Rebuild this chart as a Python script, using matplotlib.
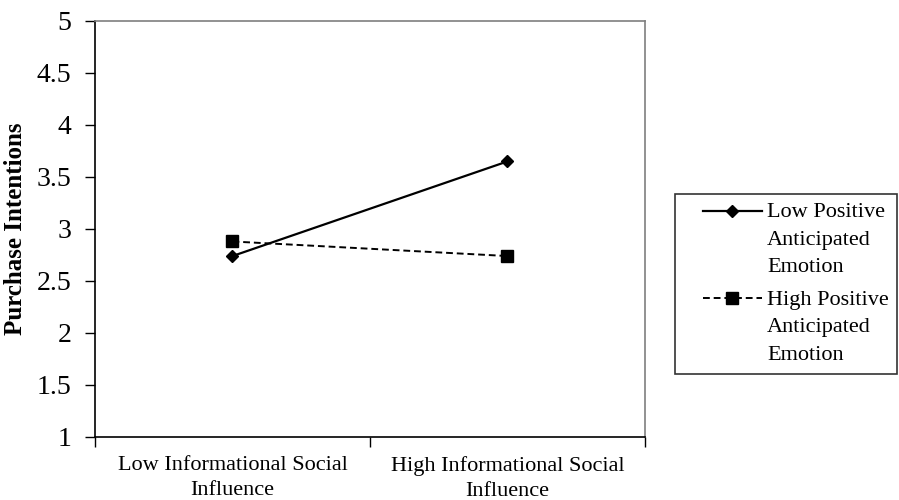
import matplotlib
matplotlib.use("Agg")
import matplotlib.pyplot as plt
from matplotlib.legend_handler import HandlerLine2D

plt.rcParams['font.family'] = ['Liberation Serif', 'DejaVu Serif']

categories = ["Low Informational Social\nInfluence", "High Informational Social\nInfluence"]
low_pos = [2.74, 3.65]
high_pos = [2.88, 2.74]
series_labels = ["Low Positive\nAnticipated\nEmotion", "High Positive\nAnticipated\nEmotion"]
y_ticks = [1, 1.5, 2, 2.5, 3, 3.5, 4, 4.5, 5]
y_tick_labels = ["1", "1.5", "2", "2.5", "3", "3.5", "4", "4.5", "5"]

LEG_FS = 16
LEG_LINESP = 1.62
X_LINESP = 1.38


class TopHandler(HandlerLine2D):
    """Line handle aligned to the first text line and starting after a gap."""
    def __init__(self, shift, xoff, **kw):
        super().__init__(**kw)
        self.shift = shift
        self.xoff = xoff

    def get_xdata(self, legend, xdescent, ydescent, width, height, fontsize):
        x0 = -xdescent + self.xoff
        x1 = -xdescent + width
        return [x0, x1], [0.5 * (x0 + x1)]

    def create_artists(self, legend, orig_handle, xdescent, ydescent, width, height, fontsize, trans):
        return super().create_artists(legend, orig_handle, xdescent, ydescent - 2 * self.shift,
                                      width, height, fontsize, trans)


fig = plt.figure(figsize=(8.99, 5.0), dpi=100)
ax = fig.add_axes([95/899, 63/500, 550/899, 416/500])

x = list(range(len(categories)))
l1, = ax.plot(x, low_pos, color='black', lw=1.6, marker='D', markersize=6.5, label=series_labels[0])
l2, = ax.plot(x, high_pos, color='black', lw=1.4, ls=(0, (3.5, 2)), marker='s', markersize=8.5,
              label=series_labels[1])

ax.set_xlim(-0.5, len(categories) - 0.5)
ax.set_ylim(1, 5)
ax.set_yticks(y_ticks)
ax.set_yticklabels(y_tick_labels, fontsize=20)
ax.tick_params(axis='y', length=7, width=1, pad=10, colors='black')

ax.set_xticks([i - 0.5 for i in range(len(categories) + 1)])
ax.set_xticklabels([])
ax.set_xticks(x, minor=True)
ax.set_xticklabels(categories, minor=True, fontsize=16, linespacing=X_LINESP)
ax.tick_params(axis='x', which='major', length=7, width=1, direction='out')
ax.tick_params(axis='x', which='minor', length=0, pad=14)

for s in ['left', 'bottom']:
    ax.spines[s].set_color('black')
    ax.spines[s].set_linewidth(1.2)
for s in ['top', 'right']:
    ax.spines[s].set_color('#7f7f7f')
    ax.spines[s].set_linewidth(1.2)

ax.set_ylabel("Purchase Intentions", fontsize=18, fontweight='bold')
ax.yaxis.set_label_coords(-0.124, 0.5)

shift_pt = 20.6
xoff_pt = 13.7
handler = {l1: TopHandler(shift_pt, xoff_pt), l2: TopHandler(shift_pt, xoff_pt)}
leg = fig.legend(handles=[l1, l2], loc='upper left',
                 bbox_to_anchor=(675/899, 1 - 194/500, (897 - 675)/899, 0), mode='expand',
                 fontsize=LEG_FS, frameon=True, fancybox=False, edgecolor='black',
                 handlelength=3.5, handletextpad=0.25, labelspacing=0.6, borderpad=0.4,
                 borderaxespad=0, handler_map=handler)
leg.get_frame().set_linewidth(1.2)
for t in leg.get_texts():
    t.set_linespacing(LEG_LINESP)

fig.savefig("out.png", dpi=100, facecolor='white')
